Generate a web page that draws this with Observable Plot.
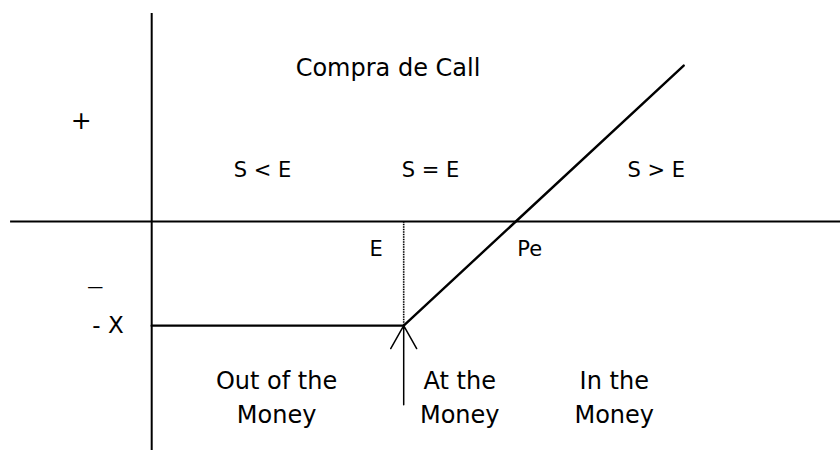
<!DOCTYPE html>
<html>
<head>
<meta charset="utf-8">
<script src="https://cdn.jsdelivr.net/npm/d3@7"></script>
<script src="https://cdn.jsdelivr.net/npm/@observablehq/plot@0.6"></script>
<style>
  html, body { margin: 0; padding: 0; background: #ffffff; }
</style>
</head>
<body>
<div id="chart"></div>
<script>
// ---- Data (payoff of a long call: "Compra de Call") ----
const strike = 45;            // E
const premium = -20;          // - X
const breakeven = 65;         // Pe
const payoffSpot = [0, 45, 95];
const payoffValue = [-20, -20, 30];

const titleText = "Compra de Call";
const regionLabels = ["S < E", "S = E", "S > E"];
const moneynessLabels = ["Out of the\nMoney", "At the\nMoney", "In the\nMoney"];
const axisSignLabels = ["+", "\u2014", "- X"];
const pointLabels = ["E", "Pe"];

// ---- Layout (annotation anchors in data units) ----
const xDomain = [-27, 123];
const yDomain = [-44, 42.5];
const regionX = [19.8, 49.8, 90.1];
const regionY = 9.9;
const moneynessX = [22.3, 55, 82.6];
const moneynessY = -33.4;
const signX = [-12.6, -10.1, -7.8];
const signY = [19.4, -12.6, premium];
const signSize = [25, 16, 23];
const pointX = [40.1, 67.5];
const pointY = -5.4;

const payoff = payoffSpot.map((s, i) => ({s, p: payoffValue[i]}));
const regions = regionLabels.map((t, i) => ({t, x: regionX[i], y: regionY}));
const moneyness = moneynessLabels.map((t, i) => ({t, x: moneynessX[i], y: moneynessY}));
const signs = axisSignLabels.map((t, i) => ({t, x: signX[i], y: signY[i], fs: signSize[i]}));
const points = pointLabels.map((t, i) => ({t, x: pointX[i], y: pointY}));

const font = "DejaVu Sans, Verdana, sans-serif";

const chart = Plot.plot({
  width: 840,
  height: 450,
  margin: 0,
  x: {domain: xDomain, axis: null},
  y: {domain: yDomain, axis: null},
  style: {fontFamily: font, background: "#ffffff", color: "#000"},
  marks: [
    // axes
    Plot.ruleX([0], {y1: -44, y2: 40, stroke: "#000", strokeWidth: 2}),
    Plot.ruleY([0], {x1: -25.2, x2: 123, stroke: "#000", strokeWidth: 2}),
    // dotted strike guide
    Plot.ruleX([strike], {y1: premium, y2: 0, stroke: "#000", strokeWidth: 1.6, strokeDasharray: "1.5,1"}),
    // payoff line
    Plot.line(payoff, {x: "s", y: "p", stroke: "#000", strokeWidth: 2.4, strokeLinejoin: "miter"}),
    // arrow pointing to strike
    Plot.arrow([{x: strike, y1: -35.2, y2: premium}], {
      x1: "x", x2: "x", y1: "y1", y2: "y2",
      stroke: "#000", strokeWidth: 1.5, headLength: 27, headAngle: 59
    }),
    // texts
    Plot.text([titleText], {x: 42.2, y: 29.5, text: d => d, fontSize: 24, fill: "#000", fontFamily: font}),
    Plot.text(regions, {x: "x", y: "y", text: "t", fontSize: 21, fill: "#000", fontFamily: font}),
    Plot.text(points, {x: "x", y: "y", text: "t", fontSize: 21, fill: "#000", fontFamily: font}),
    Plot.text(signs, {x: "x", y: "y", text: "t", fontSize: d => d.fs, fill: "#000", fontFamily: font}),
    Plot.text(moneyness, {x: "x", y: "y", text: "t", fontSize: 24, lineHeight: 1.42, fill: "#000", fontFamily: font})
  ]
});

document.getElementById("chart").appendChild(chart);
</script>
</body>
</html>
